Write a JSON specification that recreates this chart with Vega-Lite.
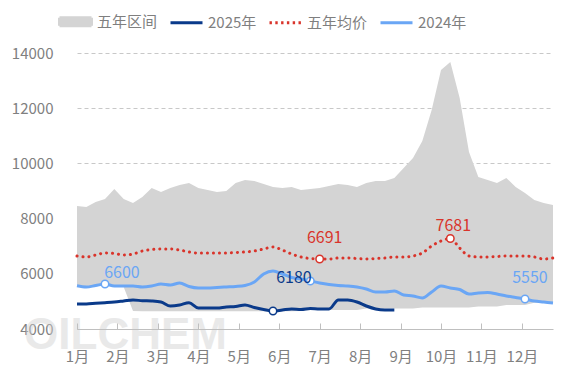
{
  "$schema": "https://vega.github.io/schema/vega-lite/v6.json",
  "width": 476,
  "height": 276,
  "autosize": {"type": "none"},
  "padding": {"left": 77, "top": 53, "right": 14, "bottom": 49},
  "background": "white",
  "config": {
    "font": "Noto Sans CJK SC",
    "view": {"stroke": null}
  },
  "datasets": {
    "main": [
      {"w": 0, "lo": 5569, "hi": 8456, "avg": 6645, "y2024": 5569, "y2025": 4906},
      {"w": 1, "lo": 5522, "hi": 8420, "avg": 6609, "y2024": 5522, "y2025": 4906},
      {"w": 2, "lo": 5576, "hi": 8601, "avg": 6681, "y2024": 5576, "y2025": 4931},
      {"w": 3, "lo": 5630, "hi": 8710, "avg": 6753, "y2024": 5630, "y2025": 4953},
      {"w": 4, "lo": 5558, "hi": 9072, "avg": 6735, "y2024": 5558, "y2025": 4978},
      {"w": 5, "lo": 5522, "hi": 8710, "avg": 6681, "y2024": 5558, "y2025": 5014},
      {"w": 6, "lo": 4650, "hi": 8565, "avg": 6717, "y2024": 5558, "y2025": 5051},
      {"w": 7, "lo": 4640, "hi": 8783, "avg": 6826, "y2024": 5522, "y2025": 5025},
      {"w": 8, "lo": 4640, "hi": 9109, "avg": 6880, "y2024": 5558, "y2025": 5014},
      {"w": 9, "lo": 4640, "hi": 8964, "avg": 6898, "y2024": 5630, "y2025": 4978},
      {"w": 10, "lo": 4640, "hi": 9109, "avg": 6898, "y2024": 5594, "y2025": 4833},
      {"w": 11, "lo": 4640, "hi": 9217, "avg": 6862, "y2024": 5667, "y2025": 4870},
      {"w": 12, "lo": 4640, "hi": 9290, "avg": 6790, "y2024": 5540, "y2025": 4953},
      {"w": 13, "lo": 4640, "hi": 9109, "avg": 6753, "y2024": 5485, "y2025": 4761},
      {"w": 14, "lo": 4640, "hi": 9036, "avg": 6753, "y2024": 5485, "y2025": 4761},
      {"w": 15, "lo": 4640, "hi": 8964, "avg": 6753, "y2024": 5504, "y2025": 4761},
      {"w": 16, "lo": 4640, "hi": 9000, "avg": 6753, "y2024": 5522, "y2025": 4797},
      {"w": 17, "lo": 4640, "hi": 9290, "avg": 6772, "y2024": 5540, "y2025": 4815},
      {"w": 18, "lo": 4640, "hi": 9398, "avg": 6790, "y2024": 5576, "y2025": 4870},
      {"w": 19, "lo": 4640, "hi": 9362, "avg": 6826, "y2024": 5703, "y2025": 4779},
      {"w": 20, "lo": 4640, "hi": 9254, "avg": 6898, "y2024": 5993, "y2025": 4707},
      {"w": 21, "lo": 4640, "hi": 9145, "avg": 6971, "y2024": 6101, "y2025": 4652},
      {"w": 22, "lo": 4640, "hi": 9109, "avg": 6862, "y2024": 5993, "y2025": 4688},
      {"w": 23, "lo": 4640, "hi": 9145, "avg": 6717, "y2024": 5866, "y2025": 4725},
      {"w": 24, "lo": 4650, "hi": 9036, "avg": 6609, "y2024": 5812, "y2025": 4707},
      {"w": 25, "lo": 4690, "hi": 9072, "avg": 6554, "y2024": 5739, "y2025": 4743},
      {"w": 26, "lo": 4690, "hi": 9109, "avg": 6536, "y2024": 5667, "y2025": 4725},
      {"w": 27, "lo": 4690, "hi": 9181, "avg": 6536, "y2024": 5612, "y2025": 4725},
      {"w": 28, "lo": 4690, "hi": 9254, "avg": 6572, "y2024": 5576, "y2025": 5051},
      {"w": 29, "lo": 4690, "hi": 9217, "avg": 6572, "y2024": 5558, "y2025": 5051},
      {"w": 30, "lo": 4690, "hi": 9145, "avg": 6554, "y2024": 5522, "y2025": 4978},
      {"w": 31, "lo": 4740, "hi": 9290, "avg": 6536, "y2024": 5449, "y2025": 4833},
      {"w": 32, "lo": 4740, "hi": 9362, "avg": 6554, "y2024": 5341, "y2025": 4725},
      {"w": 33, "lo": 4740, "hi": 9362, "avg": 6572, "y2024": 5341, "y2025": 4688},
      {"w": 34, "lo": 4740, "hi": 9471, "avg": 6609, "y2024": 5377, "y2025": 4688},
      {"w": 35, "lo": 4740, "hi": 9833, "avg": 6609, "y2024": 5232},
      {"w": 36, "lo": 4740, "hi": 10195, "avg": 6645, "y2024": 5196},
      {"w": 37, "lo": 4780, "hi": 10811, "avg": 6753, "y2024": 5123},
      {"w": 38, "lo": 4780, "hi": 11934, "avg": 7007, "y2024": 5341},
      {"w": 39, "lo": 4780, "hi": 13384, "avg": 7188, "y2024": 5558},
      {"w": 40, "lo": 4780, "hi": 13674, "avg": 7279, "y2024": 5485},
      {"w": 41, "lo": 4780, "hi": 12369, "avg": 6935, "y2024": 5431},
      {"w": 42, "lo": 4780, "hi": 10413, "avg": 6645, "y2024": 5268},
      {"w": 43, "lo": 4815, "hi": 9507, "avg": 6609, "y2024": 5304},
      {"w": 44, "lo": 4815, "hi": 9398, "avg": 6609, "y2024": 5322},
      {"w": 45, "lo": 4815, "hi": 9290, "avg": 6627, "y2024": 5268},
      {"w": 46, "lo": 4870, "hi": 9471, "avg": 6645, "y2024": 5196},
      {"w": 47, "lo": 4870, "hi": 9145, "avg": 6645, "y2024": 5141},
      {"w": 48, "lo": 4870, "hi": 8927, "avg": 6645, "y2024": 5087},
      {"w": 49, "lo": 4950, "hi": 8674, "avg": 6609, "y2024": 5014},
      {"w": 50, "lo": 4960, "hi": 8565, "avg": 6536, "y2024": 4978},
      {"w": 51, "lo": 4942, "hi": 8493, "avg": 6572, "y2024": 4942}
    ],
    "marks": [
      {"series": "2024年", "w": 3, "v": 5630, "label": "6600", "grp": "a"},
      {"series": "2025年", "w": 21, "v": 4652, "label": "6180", "grp": "b"},
      {"series": "2024年", "w": 25, "v": 5739, "label": "", "grp": "n"},
      {"series": "五年均价", "w": 26, "v": 6536, "label": "6691", "grp": "c"},
      {"series": "五年均价", "w": 40, "v": 7279, "label": "7681", "grp": "d"},
      {"series": "2024年", "w": 48, "v": 5087, "label": "5550", "grp": "c"}
    ],
    "wm": [{"w": 5.2, "v": 3750, "t": "OILCHEM"}]
  },
  "layer": [
    {
      "data": {"name": "wm"},
      "mark": {"type": "text", "fontSize": 44, "fontWeight": "bold", "font": "Liberation Sans", "fill": "#d0d0d0", "opacity": 0.45, "baseline": "middle", "align": "center"},
      "encoding": {
        "x": {"field": "w", "type": "quantitative", "scale": {"domain": [0, 51], "nice": false, "zero": false}},
        "y": {"field": "v", "type": "quantitative", "scale": {"domain": [4000, 14000], "nice": false, "zero": false}},
        "text": {"field": "t"}
      }
    },
    {
      "data": {"name": "main"},
      "mark": {"type": "area", "opacity": 1},
      "encoding": {
        "x": {"field": "w", "type": "quantitative",
          "axis": {"values": [0, 4.3333, 8.6667, 13, 17.3333, 21.6667, 26, 30.3333, 34.6667, 39, 43.3333, 47.6667],
            "labelExpr": "round(datum.value / 4.3333) + 1 + '月'", "zindex": 1,
            "title": null, "grid": false, "domainColor": "#bfbfbf", "tickColor": "#bfbfbf", "tickSize": -6,
            "labelPadding": 26, "labelFontSize": 15, "labelColor": "#808080", "labelFont": "Noto Sans CJK SC", "labelFlush": false, "labelOverlap": false}},
        "y": {"field": "lo", "type": "quantitative",
          "axis": {"values": [4000, 6000, 8000, 10000, 12000, 14000], "format": "d", "title": null, "grid": true, "gridDash": [4, 3], "gridColor": "#c8c8c8",
            "domain": false, "ticks": false, "labelPadding": 24, "labelFontSize": 15, "labelColor": "#808080", "labelFont": "Noto Sans CJK SC"}},
        "y2": {"field": "hi"},
        "color": {"datum": "五年区间", "type": "nominal",
          "scale": {"domain": ["五年区间", "2025年", "五年均价", "2024年"], "range": ["#d4d4d4", "#0a3a8a", "#d9342b", "#6aa6f5"]},
          "legend": {
            "orient": "none", "legendX": -19, "legendY": -49, "direction": "horizontal", "title": null,
            "symbolSize": 1024, "columnPadding": 6, "labelFontSize": 15, "labelColor": "#7f7f7f", "labelFont": "Noto Sans CJK SC", "labelOffset": 4,
            "values": ["五年区间", "2025年", "五年均价", "2024年"],
            "symbolType": {"expr": "datum.value === '五年区间' ? 'M-1,-0.25L1,-0.25L1,0.25L-1,0.25Z' : 'M-1,0L1,0'"},
            "symbolFillColor": {"expr": "datum.value === '五年区间' ? '#d4d4d4' : 'transparent'"},
            "symbolStrokeColor": {"expr": "datum.value === '五年区间' ? 'transparent' : (datum.value === '2025年' ? '#0a3a8a' : (datum.value === '五年均价' ? '#d9342b' : '#6aa6f5'))"},
            "symbolStrokeWidth": 3,
            "symbolDash": {"expr": "datum.value === '五年均价' ? [2.4, 3.4] : [1, 0]"},
            "symbolOpacity": 1
          }
        }
      }
    },
    {
      "data": {"name": "main"},
      "mark": {"type": "line", "strokeWidth": 3, "interpolate": "monotone"},
      "encoding": {
        "x": {"field": "w", "type": "quantitative"},
        "y": {"field": "y2024", "type": "quantitative"},
        "stroke": {"datum": "2024年", "type": "nominal", "legend": null,
          "scale": {"domain": ["五年区间", "2025年", "五年均价", "2024年"], "range": ["#d4d4d4", "#0a3a8a", "#d9342b", "#6aa6f5"]}}
      }
    },
    {
      "data": {"name": "main"},
      "mark": {"type": "line", "strokeWidth": 3, "strokeDash": [0.1, 5.9], "strokeCap": "round", "interpolate": "monotone"},
      "encoding": {
        "x": {"field": "w", "type": "quantitative"},
        "y": {"field": "avg", "type": "quantitative"},
        "stroke": {"datum": "五年均价", "type": "nominal", "legend": null}
      }
    },
    {
      "data": {"name": "main"},
      "transform": [{"filter": "isValid(datum.y2025)"}],
      "mark": {"type": "line", "strokeWidth": 3, "interpolate": "monotone"},
      "encoding": {
        "x": {"field": "w", "type": "quantitative"},
        "y": {"field": "y2025", "type": "quantitative"},
        "stroke": {"datum": "2025年", "type": "nominal", "legend": null}
      }
    },
    {
      "data": {"name": "marks"},
      "mark": {"type": "point", "shape": "circle", "fill": "white", "fillOpacity": 1, "opacity": 1, "size": 55, "strokeWidth": 1.5},
      "encoding": {
        "x": {"field": "w", "type": "quantitative"},
        "y": {"field": "v", "type": "quantitative"},
        "stroke": {"field": "series", "type": "nominal", "legend": null}
      }
    },
    {
      "data": {"name": "marks"},
      "transform": [{"filter": "datum.grp === 'c'"}],
      "mark": {"type": "text", "fontSize": 16, "dx": 5, "dy": -21, "baseline": "middle", "align": "center"},
      "encoding": {
        "x": {"field": "w", "type": "quantitative"},
        "y": {"field": "v", "type": "quantitative"},
        "text": {"field": "label"},
        "fill": {"field": "series", "type": "nominal", "legend": null,
          "scale": {"domain": ["五年区间", "2025年", "五年均价", "2024年"], "range": ["#d4d4d4", "#0a3a8a", "#d9342b", "#6aa6f5"]}}
      }
    },
    {
      "data": {"name": "marks"},
      "transform": [{"filter": "datum.grp === 'd'"}],
      "mark": {"type": "text", "fontSize": 16, "dx": 3, "dy": -12, "baseline": "middle", "align": "center"},
      "encoding": {
        "x": {"field": "w", "type": "quantitative"},
        "y": {"field": "v", "type": "quantitative"},
        "text": {"field": "label"},
        "fill": {"field": "series", "type": "nominal", "legend": null}
      }
    },
    {
      "data": {"name": "marks"},
      "transform": [{"filter": "datum.grp === 'a'"}],
      "mark": {"type": "text", "fontSize": 16, "dx": 17, "dy": -11, "baseline": "middle", "align": "center"},
      "encoding": {
        "x": {"field": "w", "type": "quantitative"},
        "y": {"field": "v", "type": "quantitative"},
        "text": {"field": "label"},
        "fill": {"field": "series", "type": "nominal", "legend": null}
      }
    },
    {
      "data": {"name": "marks"},
      "transform": [{"filter": "datum.grp === 'b'"}],
      "mark": {"type": "text", "fontSize": 16, "dx": 21, "dy": -33, "baseline": "middle", "align": "center"},
      "encoding": {
        "x": {"field": "w", "type": "quantitative"},
        "y": {"field": "v", "type": "quantitative"},
        "text": {"field": "label"},
        "fill": {"field": "series", "type": "nominal", "legend": null}
      }
    }
  ]
}
